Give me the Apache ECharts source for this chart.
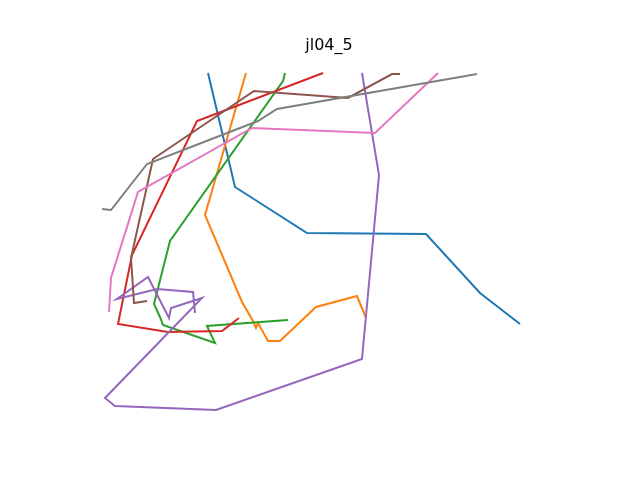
<!DOCTYPE html>
<html>
<head>
<meta charset="utf-8">
<script src="https://cdn.jsdelivr.net/npm/echarts@6/dist/echarts.min.js"></script>
<style>html,body{margin:0;padding:0;background:#fff}#c{width:640px;height:480px}</style>
</head>
<body>
<div id="c"></div>
<script>
var titleText = 'jl04_5';
var path0 = [[208,73],[235,187],[307,233],[426,234],[480,293],[520,324]];
var path1 = [[246,73],[205,215],[242,302],[253,321],[256,328],[258,323],[268,341],[280,341],[316,307],[357,296],[366,318]];
var path2 = [[285,73],[283,81],[170,241],[154,304],[160,317],[163,325],[215,343],[207,326],[288,320]];
var path3 = [[323,73],[197,121],[132,255],[118,324],[168,332],[222,331],[239,318]];
var path4 = [[362,73],[379,175],[362,359],[216,410],[115,406],[105,398],[202,298],[171,308],[169,318],[148,277],[117,299],[157,289],[193,292],[195,313]];
var path5 = [[400,74],[392,74],[348,98],[254,91],[153,159],[131,258],[134,303],[147,301]];
var path6 = [[438,73],[375,133],[252,128],[138,192],[111,278],[109,312]];
var path7 = [[102,209],[111,210],[147,164],[258,121],[277,109],[477,74]];
var paths = [path0,path1,path2,path3,path4,path5,path6,path7];
var colors = ['#1f77b4','#ff7f0e','#2ca02c','#d62728','#9467bd','#8c564b','#e377c2','#7f7f7f'];

var chart = echarts.init(document.getElementById('c'), null, {renderer:'canvas'});
chart.setOption({
  animation: false,
  backgroundColor: '#ffffff',
  title: {text: titleText, left: 324, textAlign: 'center', top: 33, textStyle: {fontFamily: 'DejaVu Sans', fontSize: 16, fontWeight: 'normal', color: '#000'}},
  grid: {left: 80, right: 64, top: 57.6, bottom: 52.8},
  xAxis: {type: 'value', min: 80, max: 576, show: false},
  yAxis: {type: 'value', min: 57.6, max: 427.2, inverse: true, show: false},
  series: paths.map(function(p, i){
    return {type: 'line', data: p, showSymbol: false, symbol: 'none', lineStyle: {color: colors[i], width: 2, cap: 'butt', join: 'miter'}, itemStyle:{color: colors[i]}, z: 2 + i};
  })
});
</script>
</body>
</html>
